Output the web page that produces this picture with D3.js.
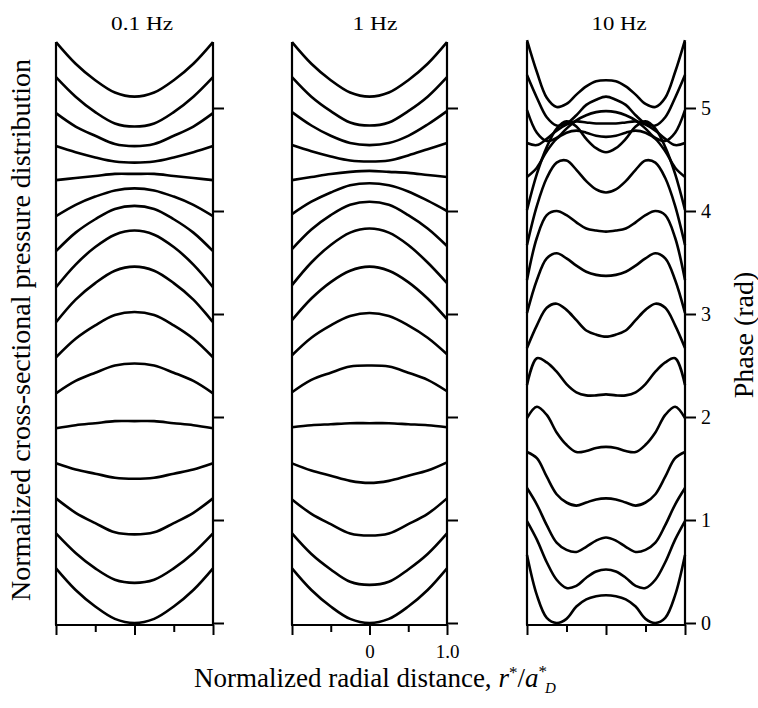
<!DOCTYPE html>
<html><head><meta charset="utf-8">
<script src="https://cdn.jsdelivr.net/npm/d3@7"></script>
<style>body{margin:0;background:#fff}</style>
</head><body>
<svg id="c" width="758" height="708"></svg>
<script>
// ---------- data ----------
const freqLabels = ["0.1 Hz", "1 Hz", "10 Hz"];
const phaseTicks = [0, 1, 2, 3, 4, 5];
const radialTicks = [-1, -0.5, 0, 0.5, 1];
const radialTickLabels = ["", "", "0", "", "1.0"];
const xTitle = "Normalized radial distance, ";
const yTitle = "Normalized cross-sectional pressure distribution";
const y2Title = "Phase (rad)";

// radial positions (r*/a*) of the samples
const rCoarse = [-1, -0.75, -0.5, -0.25, 0, 0.25, 0.5, 0.75, 1];
const rFine = [-1, -0.875, -0.75, -0.625, -0.5, -0.375, -0.25, -0.125, 0,
               0.125, 0.25, 0.375, 0.5, 0.625, 0.75, 0.875, 1];

// curve values in phase units (rad), bottom curve first
const curves01 = [
  [0.53, 0.32, 0.16, 0.04, 0.00, 0.04, 0.16, 0.32, 0.53],
  [0.87, 0.68, 0.53, 0.42, 0.39, 0.42, 0.53, 0.68, 0.87],
  [1.21, 1.07, 0.97, 0.88, 0.86, 0.88, 0.97, 1.07, 1.21],
  [1.55, 1.49, 1.45, 1.41, 1.40, 1.41, 1.45, 1.49, 1.55],
  [1.89, 1.92, 1.94, 1.96, 1.96, 1.96, 1.94, 1.92, 1.89],
  [2.23, 2.35, 2.43, 2.50, 2.52, 2.50, 2.43, 2.35, 2.23],
  [2.58, 2.76, 2.89, 2.99, 3.02, 2.99, 2.89, 2.76, 2.58],
  [2.92, 3.14, 3.30, 3.42, 3.46, 3.42, 3.30, 3.14, 2.92],
  [3.26, 3.48, 3.65, 3.77, 3.81, 3.77, 3.65, 3.48, 3.26],
  [3.61, 3.79, 3.92, 4.02, 4.05, 4.02, 3.92, 3.79, 3.61],
  [3.95, 4.06, 4.14, 4.20, 4.22, 4.20, 4.14, 4.06, 3.95],
  [4.30, 4.32, 4.34, 4.36, 4.36, 4.36, 4.34, 4.32, 4.30],
  [4.63, 4.57, 4.52, 4.48, 4.47, 4.48, 4.52, 4.57, 4.63],
  [4.95, 4.82, 4.73, 4.65, 4.63, 4.65, 4.73, 4.82, 4.95],
  [5.30, 5.11, 4.96, 4.85, 4.82, 4.85, 4.96, 5.11, 5.30],
  [5.64, 5.43, 5.27, 5.15, 5.11, 5.15, 5.27, 5.43, 5.64]
];
const curves1 = [
  [0.53, 0.32, 0.16, 0.04, 0.00, 0.04, 0.16, 0.32, 0.53],
  [0.87, 0.67, 0.52, 0.40, 0.37, 0.40, 0.52, 0.67, 0.87],
  [1.20, 1.06, 0.96, 0.87, 0.85, 0.87, 0.96, 1.06, 1.21],
  [1.55, 1.48, 1.43, 1.38, 1.36, 1.38, 1.43, 1.48, 1.56],
  [1.90, 1.92, 1.93, 1.94, 1.94, 1.94, 1.93, 1.92, 1.90],
  [2.24, 2.36, 2.43, 2.49, 2.50, 2.49, 2.43, 2.36, 2.25],
  [2.60, 2.77, 2.89, 2.98, 3.01, 2.98, 2.89, 2.77, 2.61],
  [2.94, 3.15, 3.31, 3.42, 3.46, 3.42, 3.31, 3.15, 2.95],
  [3.28, 3.50, 3.67, 3.79, 3.83, 3.79, 3.67, 3.50, 3.30],
  [3.63, 3.82, 3.96, 4.06, 4.09, 4.06, 3.96, 3.83, 3.66],
  [3.97, 4.09, 4.18, 4.25, 4.27, 4.25, 4.19, 4.10, 4.00],
  [4.30, 4.33, 4.36, 4.38, 4.39, 4.38, 4.37, 4.35, 4.33],
  [4.64, 4.58, 4.53, 4.49, 4.48, 4.49, 4.54, 4.60, 4.66],
  [4.96, 4.83, 4.73, 4.66, 4.64, 4.66, 4.73, 4.84, 4.97],
  [5.30, 5.11, 4.97, 4.86, 4.83, 4.86, 4.97, 5.11, 5.30],
  [5.64, 5.43, 5.27, 5.15, 5.11, 5.15, 5.27, 5.43, 5.64]
];
const curves10 = [
  [0.66,0.27,0.05,0.00,0.04,0.16,0.23,0.26,0.27,0.26,0.23,0.16,0.04,0.00,0.05,0.27,0.66],
  [0.99,0.81,0.59,0.42,0.34,0.36,0.44,0.50,0.52,0.50,0.44,0.36,0.34,0.42,0.59,0.81,0.99],
  [1.31,1.15,0.95,0.78,0.71,0.69,0.74,0.80,0.83,0.80,0.74,0.69,0.71,0.78,0.95,1.15,1.31],
  [1.66,1.60,1.42,1.25,1.17,1.14,1.17,1.20,1.21,1.20,1.17,1.14,1.17,1.25,1.42,1.60,1.66],
  [1.99,2.10,2.02,1.85,1.73,1.66,1.67,1.70,1.71,1.70,1.67,1.66,1.73,1.85,2.02,2.10,1.99],
  [2.31,2.57,2.53,2.44,2.32,2.24,2.21,2.21,2.22,2.21,2.21,2.24,2.32,2.44,2.53,2.57,2.31],
  [2.67,2.89,3.06,3.10,3.04,2.94,2.84,2.80,2.78,2.80,2.84,2.94,3.04,3.10,3.06,2.89,2.67],
  [3.01,3.33,3.54,3.59,3.54,3.47,3.41,3.38,3.37,3.38,3.41,3.47,3.54,3.59,3.54,3.33,3.01],
  [3.33,3.74,3.96,4.00,3.96,3.89,3.83,3.81,3.80,3.81,3.83,3.89,3.96,4.00,3.96,3.74,3.33],
  [3.67,4.05,4.32,4.47,4.49,4.40,4.29,4.21,4.18,4.21,4.29,4.40,4.49,4.47,4.32,4.05,3.67],
  [4.01,4.36,4.62,4.80,4.87,4.82,4.70,4.61,4.57,4.61,4.70,4.82,4.87,4.80,4.62,4.36,4.01],
  [4.33,4.42,4.58,4.70,4.76,4.78,4.76,4.73,4.72,4.73,4.76,4.78,4.76,4.70,4.58,4.42,4.33],
  [4.66,4.64,4.70,4.78,4.84,4.87,4.86,4.85,4.85,4.85,4.86,4.87,4.84,4.78,4.70,4.64,4.66],
  [4.98,4.76,4.68,4.71,4.80,4.88,4.93,4.96,4.97,4.96,4.93,4.88,4.80,4.71,4.68,4.76,4.98],
  [5.32,5.10,4.91,4.83,4.85,4.93,5.03,5.08,5.11,5.08,5.03,4.93,4.85,4.83,4.91,5.10,5.32],
  [5.66,5.35,5.10,5.01,5.04,5.13,5.21,5.26,5.27,5.26,5.21,5.13,5.04,5.01,5.10,5.35,5.66]
];

// ---------- layout ----------
const svg = d3.select("#c");
const panels = [
  {x0: 56, x1: 213, r: rCoarse, curves: curves01, title: freqLabels[0], tx: 142, tw: 62},
  {x0: 292, x1: 447, r: rCoarse, curves: curves1, title: freqLabels[1], tx: 375, tw: 45},
  {x0: 527, x1: 685, r: rFine, curves: curves10, title: freqLabels[2], tx: 619, tw: 55}
];
const y = d3.scaleLinear().domain([0, 5]).range([623, 108]);
const yTop = 42, yAxis = 625;
const serif = "'Liberation Serif', 'Times New Roman', serif";

panels.forEach((p, i) => {
  const x = d3.scaleLinear().domain([-1, 1]).range([p.x0, p.x1]);
  const g = svg.append("g");

  g.append("line").attr("x1", p.x0).attr("x2", p.x0).attr("y1", yTop).attr("y2", yAxis)
    .attr("stroke", "#000").attr("stroke-width", 2.2);
  g.append("line").attr("x1", p.x1).attr("x2", p.x1).attr("y1", yTop).attr("y2", yAxis)
    .attr("stroke", "#000").attr("stroke-width", 2.2);

  const xAxis = d3.axisBottom(x).tickValues(radialTicks)
    .tickSize(0).tickFormat(i === 1 ? ((d, k) => radialTickLabels[k]) : () => "");
  const ax = g.append("g").attr("transform", `translate(0,${yAxis})`).call(xAxis);
  ax.select(".domain").attr("stroke", "#000").attr("stroke-width", 2.2)
    .attr("d", `M${p.x0 - 1},0H${p.x1 + 1}`);
  ax.selectAll(".tick line").attr("stroke", "#000").attr("stroke-width", 2)
    .attr("y2", d => (d === 0 || Math.abs(d) === 1) ? 10 : 7);
  ax.selectAll(".tick text").attr("font-family", serif).attr("font-size", 19)
    .attr("fill", "#000").attr("y", 20);

  const yAx = d3.axisRight(y).tickValues(phaseTicks).tickSize(11)
    .tickFormat(i === 2 ? d3.format("d") : () => "");
  const ay = g.append("g").attr("transform", `translate(${p.x1},0)`).call(yAx);
  ay.select(".domain").remove();
  ay.selectAll(".tick line").attr("stroke", "#000").attr("stroke-width", 2);
  ay.selectAll(".tick text").attr("font-family", serif).attr("font-size", 20)
    .attr("fill", "#000").attr("x", 16);

  const line = d3.line().x((d, k) => x(p.r[k])).y(d => y(d)).curve(d3.curveCatmullRom.alpha(0.5));
  g.selectAll("path.curve").data(p.curves).join("path").attr("class", "curve")
    .attr("d", line).attr("fill", "none").attr("stroke", "#000").attr("stroke-width", 2.6)
    .attr("stroke-linejoin", "round");

  g.append("text").attr("x", p.tx).attr("y", 30).attr("text-anchor", "middle")
    .attr("font-family", serif).attr("font-size", 18).attr("textLength", p.tw)
    .attr("lengthAdjust", "spacingAndGlyphs").text(p.title);
});

const xt = svg.append("text").attr("x", 194).attr("y", 687)
  .attr("font-family", serif).attr("font-size", 27).attr("fill", "#000");
xt.append("tspan").text(xTitle);
xt.append("tspan").attr("font-style", "italic").text("r");
xt.append("tspan").attr("font-size", 17).attr("dy", -9).text("*");
xt.append("tspan").attr("dy", 9).text("/");
xt.append("tspan").attr("font-style", "italic").text("a");
xt.append("tspan").attr("font-size", 17).attr("dy", -10).text("*");
xt.append("tspan").attr("font-size", 15).attr("font-style", "italic").attr("dy", 16).attr("dx", -2).text("D");

svg.append("text").attr("transform", "translate(30,330) rotate(-90)")
  .attr("text-anchor", "middle").attr("font-family", serif).attr("font-size", 28)
  .attr("fill", "#000").text(yTitle);
svg.append("text").attr("transform", "translate(753,335) rotate(-90)")
  .attr("text-anchor", "middle").attr("font-family", serif).attr("font-size", 28)
  .attr("fill", "#000").text(y2Title);
</script>
</body></html>
